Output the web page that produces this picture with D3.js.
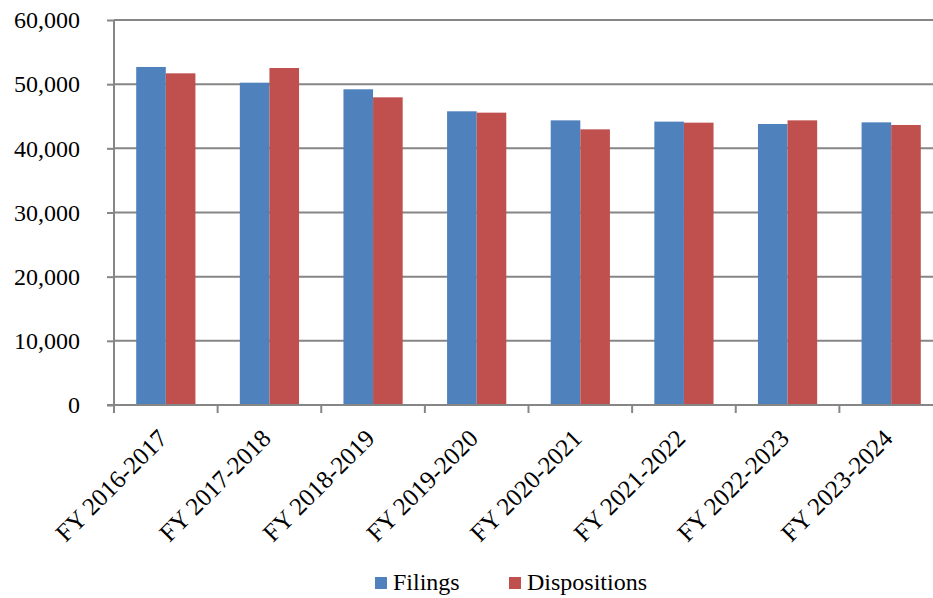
<!DOCTYPE html>
<html>
<head>
<meta charset="utf-8">
<script src="https://cdn.jsdelivr.net/npm/d3@7"></script>
<style>
  html, body { margin: 0; padding: 0; background: #fff; }
  svg { display: block; }
</style>
</head>
<body>
<svg id="chart" width="933" height="598" style="font-family: 'Liberation Serif', 'Times New Roman', 'DejaVu Serif', serif;"></svg>
<script>
const categories = ["FY 2016-2017", "FY 2017-2018", "FY 2018-2019", "FY 2019-2020",
                    "FY 2020-2021", "FY 2021-2022", "FY 2022-2023", "FY 2023-2024"];
const filings      = [52680, 50230, 49200, 45770, 44360, 44160, 43790, 44050];
const dispositions = [51690, 52520, 47950, 45560, 42960, 44000, 44360, 43640];
const seriesNames  = ["Filings", "Dispositions"];
const seriesColors = ["#4F81BD", "#C0504D"];
const yTicks       = [0, 10000, 20000, 30000, 40000, 50000, 60000];

(function () {
const FONT = "'Liberation Serif', 'Times New Roman', 'DejaVu Serif', serif";
const svg = d3.select("#chart");
const pLeft = 114, pRight = 943, pTop = 20, pBottom = 405;
const gridColor = "#868686";

const x = d3.scaleBand().domain(categories).range([pLeft, pRight])
  .paddingInner(0.4286).paddingOuter(0.2143);
const xStep = d3.scaleBand().domain(categories).range([pLeft, pRight]).padding(0);
const xs = d3.scaleBand().domain(seriesNames).range([0, x.bandwidth()]).padding(0);
const y = d3.scaleLinear().domain([0, 60000]).range([pBottom, pTop]);

// gridlines
svg.append("g").selectAll("line").data(yTicks.filter(d => d > 0)).join("line")
  .attr("x1", pLeft).attr("x2", pRight)
  .attr("y1", d => y(d)).attr("y2", d => y(d))
  .attr("stroke", gridColor).attr("stroke-width", 2);

// bars
const data = categories.map((c, i) => ({ c, vals: [filings[i], dispositions[i]] }));
const g = svg.append("g").selectAll("g").data(data).join("g")
  .attr("transform", d => `translate(${x(d.c)},0)`);
g.selectAll("rect").data(d => d.vals.map((v, j) => ({ v, s: seriesNames[j], j }))).join("rect")
  .attr("x", d => xs(d.s))
  .attr("width", xs.bandwidth())
  .attr("y", d => y(d.v))
  .attr("height", d => y(0) - y(d.v))
  .attr("fill", d => seriesColors[d.j]);

// y axis
const yAxis = d3.axisLeft(y).tickValues(yTicks).tickSize(7).tickPadding(27)
  .tickFormat(d3.format(","));
const ya = svg.append("g").attr("transform", `translate(${pLeft},0)`).call(yAxis)
  .attr("font-family", FONT).attr("font-size", 24);
ya.select(".domain").attr("stroke", gridColor).attr("stroke-width", 2).attr("d", `M0,${pTop}V${pBottom}`);
ya.selectAll(".tick line").attr("stroke", gridColor).attr("stroke-width", 2);
ya.selectAll(".tick text").attr("fill", "#000");

// x axis
svg.append("line").attr("x1", pLeft - 7).attr("x2", pRight).attr("y1", pBottom).attr("y2", pBottom)
  .attr("stroke", gridColor).attr("stroke-width", 2);
svg.append("g").selectAll("line").data(categories).join("line")
  .attr("x1", d => xStep(d)).attr("x2", d => xStep(d))
  .attr("y1", pBottom).attr("y2", pBottom + 8)
  .attr("stroke", gridColor).attr("stroke-width", 2);

svg.append("g").attr("font-family", FONT).selectAll("text").data(categories).join("text")
  .attr("transform", d => `translate(${xStep(d) + xStep.bandwidth() / 2 + 3},${pBottom + 35}) rotate(-45)`)
  .attr("text-anchor", "end")
  .attr("font-size", 25)
  .attr("fill", "#000")
  .text(d => d);

// legend
const legend = svg.append("g").attr("font-family", FONT);
const legX = [375, 509];
seriesNames.forEach((s, i) => {
  legend.append("rect").attr("x", legX[i]).attr("y", 577).attr("width", 12).attr("height", 12)
    .attr("fill", seriesColors[i]);
  legend.append("text").attr("x", legX[i] + 18).attr("y", 590).attr("font-size", 24)
    .attr("fill", "#000").text(s);
});
})();
</script>
</body>
</html>
